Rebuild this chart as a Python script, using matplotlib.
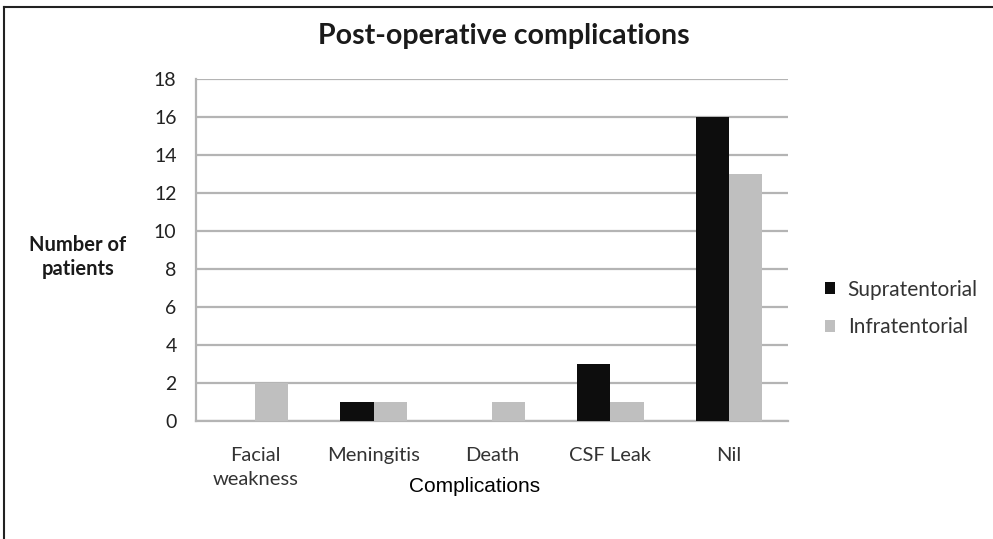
import matplotlib
matplotlib.use("Agg")
import matplotlib.pyplot as plt
import numpy as np
from matplotlib.lines import Line2D
from matplotlib.patches import Patch

categories = ["Facial\nweakness", "Meningitis", "Death", "CSF Leak", "Nil"]
supratentorial = [0, 1, 0, 3, 16]
infratentorial = [2, 1, 1, 1, 13]
series_names = ["Supratentorial", "Infratentorial"]
yticks = [0, 2, 4, 6, 8, 10, 12, 14, 16, 18]

W, H = 993, 539
fig = plt.figure(figsize=(W / 100, H / 100), dpi=100)
fig.patch.set_facecolor("white")

ax = fig.add_axes([196 / W, 1 - 421 / H, (788 - 196) / W, (421 - 79) / H])
x = np.arange(len(categories))
bw = 0.28
ax.bar(x - bw / 2, supratentorial, bw, color="#0d0d0d", zorder=3)
ax.bar(x + bw / 2, infratentorial, bw, color="#bfbfbf", zorder=3)

ax.set_xlim(-0.5, len(categories) - 0.5)
ax.set_ylim(0, 18)
ax.set_yticks(yticks)
ax.yaxis.grid(True, color="#b4b4b4", linewidth=1.6, zorder=0)
ax.set_axisbelow(True)
for s in ["top", "right"]:
    ax.spines[s].set_visible(False)
for s in ["left", "bottom"]:
    ax.spines[s].set_color("#b4b4b4")
    ax.spines[s].set_linewidth(1.6)
ax.set_xticks(x)
ax.set_xticklabels(categories, fontsize=14.5, family="Lato", color="#333333",
                   linespacing=1.5, va="top")
ax.tick_params(axis="x", length=0, pad=19)
ax.tick_params(axis="y", length=0, pad=14, labelsize=14, labelcolor="#222222")
for t in ax.get_yticklabels():
    t.set_family("Lato")

fig.text(504 / W, 1 - 36 / H, "Post-operative complications", ha="center", va="center",
         fontsize=20.5, fontweight="bold", family="Lato", color="#1a1a1a")
fig.text(78 / W, 1 - 257 / H, "Number of\npatients", ha="center", va="center",
         fontsize=14.5, fontweight="bold", family="Lato", color="#1a1a1a", linespacing=1.3)
fig.text(475 / W, 1 - 486 / H, "Complications", ha="center", va="center",
         fontsize=15, family="Liberation Sans", color="black")

handles = [Patch(facecolor="#0d0d0d"), Patch(facecolor="#bfbfbf")]
leg = fig.legend(handles, series_names, loc="upper left",
                 bbox_to_anchor=(806 / W, 1 - 261 / H), frameon=False,
                 prop={"family": "Lato", "size": 15}, handlelength=0.5,
                 handleheight=0.5, handletextpad=0.6, labelspacing=0.85)
for t in leg.get_texts():
    t.set_color("#333333")

# figure border (top and left)
fig.add_artist(Line2D([4 / W, 1], [1 - 7 / H, 1 - 7 / H], color="#222222", lw=1.5,
                      transform=fig.transFigure))
fig.add_artist(Line2D([4 / W, 4 / W], [0, 1 - 7 / H], color="#222222", lw=1.5,
                      transform=fig.transFigure))

fig.savefig("out.png", dpi=100)
